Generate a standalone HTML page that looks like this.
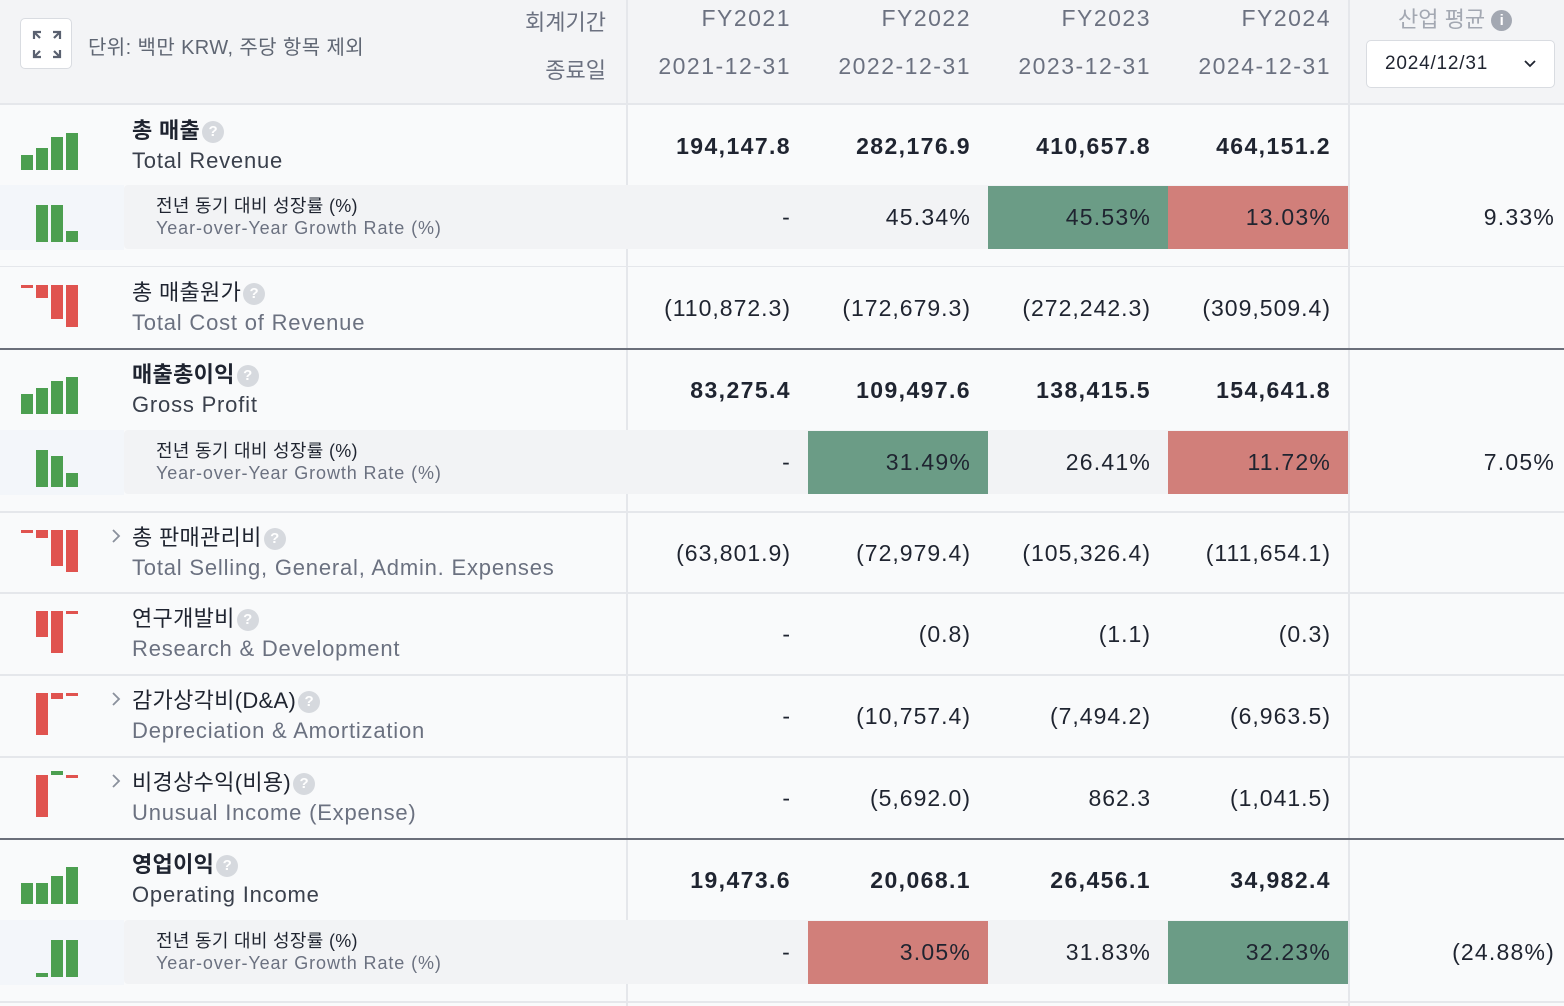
<!DOCTYPE html>
<html><head><meta charset="utf-8">
<style>
*{margin:0;padding:0;box-sizing:border-box}
body{width:1564px;height:1006px;overflow:hidden;background:#f9fafb;font-family:"Liberation Sans","Noto Sans CJK KR",sans-serif;color:#1f2430;position:relative}
.a{position:absolute;white-space:nowrap}
.hdr{left:0;top:0;width:1564px;height:105px;background:#f3f4f6;border-bottom:2px solid #e5e7eb}
.r{text-align:right}
</style></head><body>
<div class="a hdr"></div>
<div class="a" style="left:20px;top:18px;width:52px;height:51px;border:1.5px solid #d9dce1;border-radius:5px;background:#fff">
<svg width="52" height="51" viewBox="0 0 52 51"><g stroke="#5a6170" stroke-width="2.2" fill="none"><path d="M13 20v-7h7M13 13l6 6M39 20v-7h-7M39 13l-6 6M13 31v7h7M13 38l6-6M39 31v7h-7M39 38l-6-6"/></g></svg></div>
<div class="a" style="left:88px;top:31px;font-size:20px;color:#5f6673;letter-spacing:0.4px">단위: 백만 KRW, 주당 항목 제외</div>
<div class="a r" style="right:958px;top:5px;font-size:22px;color:#6b7180">회계기간</div>
<div class="a r" style="right:958px;top:53px;font-size:22px;color:#6b7180">종료일</div>
<div class="a" style="left:1398px;top:2px;font-size:22px;color:#a3a8b2">산업 평균 <span style="display:inline-block;width:21px;height:21px;border-radius:50%;background:#a3a8b2;color:#fff;font-size:15px;text-align:center;line-height:21px;font-weight:bold;vertical-align:2px">i</span></div>
<div class="a" style="left:1366px;top:40px;width:189px;height:48px;border:1.5px solid #d9dce1;border-radius:5px;background:#fff;font-size:19px;padding:12px 0 0 18px;color:#1f2430;letter-spacing:0.8px">2024/12/31<svg style="position:absolute;right:18px;top:19px" width="12" height="8" viewBox="0 0 12 8"><path d="M1 1l5 5 5-5" stroke="#1f2430" stroke-width="1.8" fill="none"/></svg></div>
<div class="a" style="left:626px;top:0;width:2px;height:1006px;background:#e5e7eb"></div>
<div class="a" style="left:1348px;top:0;width:2px;height:1006px;background:#e5e7eb"></div>
<div id="t"></div>
<script>
const years=["FY2021","FY2022","FY2023","FY2024"];
const dates=["2021-12-31","2022-12-31","2023-12-31","2024-12-31"];
const rowKo=["총 매출","총 매출원가","매출총이익","총 판매관리비","연구개발비","감가상각비(D&A)","비경상수익(비용)","영업이익"];
const rowEn=["Total Revenue","Total Cost of Revenue","Gross Profit","Total Selling, General, Admin. Expenses","Research & Development","Depreciation & Amortization","Unusual Income (Expense)","Operating Income"];
const revenue=[194147.8,282176.9,410657.8,464151.2];
const costRev=[-110872.3,-172679.3,-272242.3,-309509.4];
const grossProfit=[83275.4,109497.6,138415.5,154641.8];
const sga=[-63801.9,-72979.4,-105326.4,-111654.1];
const rnd=[null,-0.8,-1.1,-0.3];
const dna=[null,-10757.4,-7494.2,-6963.5];
const unusual=[null,-5692.0,862.3,-1041.5];
const opIncome=[19473.6,20068.1,26456.1,34982.4];
const revGrowth=[null,45.34,45.53,13.03];
const gpGrowth=[null,31.49,26.41,11.72];
const opGrowth=[null,3.05,31.83,32.23];
const growthColor=[[null,null,"g","r"],[null,"g",null,"r"],[null,"r",null,"g"]];
const industryAvg=[9.33,7.05,-24.88];
const rowData=[revenue,costRev,grossProfit,sga,rnd,dna,unusual,opIncome];
const rowTops=[105,267,349,512,593,675,757,839];
const bold=[1,0,1,0,0,0,0,1];
const chevron=[0,0,0,1,0,1,1,0];
const growthData=[revGrowth,gpGrowth,opGrowth];
const growthTops=[185,430,920];
const lines=[[266,1,"#e5e7eb"],[348,2,"#6b6f7a"],[511,2,"#e5e7eb"],[592,2,"#e5e7eb"],[674,2,"#e5e7eb"],[756,2,"#e5e7eb"],[838,2,"#6b6f7a"],[1001,2,"#e5e7eb"]];
const T=document.getElementById('t');
function div(css,txt){const d=document.createElement('div');d.className='a';d.style.cssText=css;if(txt!=null)d.textContent=txt;T.appendChild(d);return d;}
function fmt(v,dec,pct){if(v==null)return "-";const s=Math.abs(v).toLocaleString('en-US',{minimumFractionDigits:dec,maximumFractionDigits:dec})+(pct?"%":"");return v<0?"("+s+")":s;}
const colRight=[791,971,1151,1331];
years.forEach((y,i)=>{
 let d=div(`right:${1564-colRight[i]}px;top:5px;font-size:23px;color:#6b7180;letter-spacing:1.5px`,y);
 
 d=div(`right:${1564-colRight[i]}px;top:53px;font-size:23px;color:#6b7180;letter-spacing:1.5px`,dates[i]);
 
});
lines.forEach(l=>{const d=div(`left:0;top:${l[0]}px;width:1564px;height:${l[1]}px;background:${l[2]}`);
 });
function spark(vals,top,isGrowth){
 const neg=vals.some(v=>v!=null&&v<0);
 const negs=vals.filter(v=>v!=null&&v<0).map(Math.abs);
 const nmax=Math.max(...negs),nmin=Math.min(...negs);
 const mx=Math.max(...vals.map(v=>Math.abs(v||0)));
 const base=neg?top+18:top+(isGrowth?57:65);
 vals.forEach((v,i)=>{if(v==null)return;
  let h;
  if(neg){h=v<0?Math.max(3,(nmax>nmin?(Math.abs(v)-nmin)/(nmax-nmin):1)*42):4;}
  else h=Math.max(3,Math.abs(v)/mx*37);
  const x=21+i*15;
  let y=v<0?base:base-h;const c=v<0?"#e0534f":"#4c9f50";
  const d=div(`left:${x}px;top:${y}px;width:12px;height:${h}px;background:${c}`);
  });
}
rowData.forEach((vals,r)=>{
 const t=rowTops[r];
 spark(vals,t,false);
 if(chevron[r]){const c=div(`left:111px;top:${t+16}px;width:12px;height:16px`);c.innerHTML='<svg width="10" height="16" viewBox="0 0 10 16"><path d="M2 2l6 6-6 6" stroke="#8a909c" stroke-width="1.8" fill="none"/></svg>';}
 let d=div(`left:132px;top:${t+8}px;font-size:22px;color:#1f2430;letter-spacing:0.3px;${bold[r]?'font-weight:bold;':''}`,rowKo[r]);
 
 const q=document.createElement('span');q.textContent='?';q.style.cssText='display:inline-block;width:22px;height:22px;border-radius:50%;background:#d6d9de;color:#fff;font-size:15px;font-weight:bold;text-align:center;line-height:22px;vertical-align:2px;margin-left:2px;letter-spacing:0';
 d.appendChild(q);
 d=div(`left:132px;top:${t+43}px;font-size:22px;letter-spacing:0.8px;color:${bold[r]?'#3a404c':'#6b7180'}`,rowEn[r]);
 
 vals.forEach((v,i)=>{const e=div(`right:${1564-colRight[i]}px;top:${t+28}px;font-size:23px;letter-spacing:${bold[r]?1.4:1}px;${bold[r]?'font-weight:bold;':''}`,fmt(v,1,false));
  });
});
growthData.forEach((vals,g)=>{
 const t=growthTops[g];
 let d=div(`left:0;top:${t}px;width:124px;height:65px;background:#f3f6fa`);
 d=div(`left:124px;top:${t}px;width:1224px;height:64px;background:#f2f3f5;border-radius:4px 0 0 4px`);
 spark(vals,t,true);
 d=div(`left:156px;top:${t+11}px;font-size:18px;line-height:20px;color:#1f2430;letter-spacing:0.3px`,"전년 동기 대비 성장률 (%)");
 d=div(`left:156px;top:${t+33}px;font-size:18px;line-height:20px;color:#6b7180;letter-spacing:0.9px`,"Year-over-Year Growth Rate (%)");
 vals.forEach((v,i)=>{const c=growthColor[g][i];
  if(c){const b=div(`left:${628+i*180}px;top:${t+1}px;width:180px;height:63px;background:${c=='g'?'#6b9c86':'#d17f7a'}`);}
  const e=div(`right:${1564-colRight[i]}px;top:${t+19}px;font-size:23px;letter-spacing:1.2px`,fmt(v,2,true));
  });
 d=div(`right:9px;top:${t+19}px;font-size:23px;letter-spacing:1.2px`,fmt(industryAvg[g],2,true));
 
});
</script>
</body></html>
